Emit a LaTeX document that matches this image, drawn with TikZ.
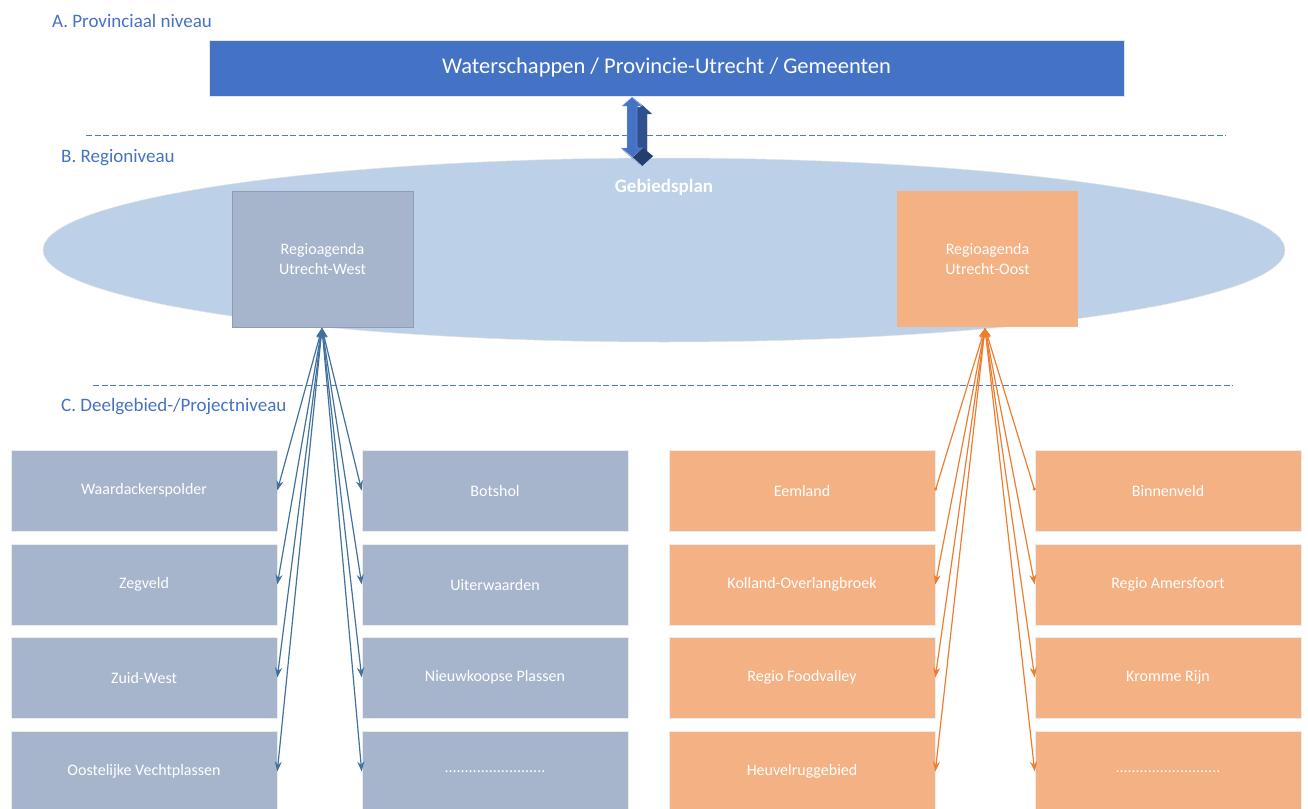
\documentclass[tikz,border=0pt]{standalone}
\usepackage{fontspec}
\setmainfont{Carlito}
\usetikzlibrary{arrows.meta,shapes.geometric}
\definecolor{hdr}{HTML}{4472C4}
\definecolor{dashc}{HTML}{4A7BD0}
\definecolor{hdrdark}{HTML}{2F528F}
\definecolor{hdrdeep}{HTML}{243F6E}
\definecolor{ell}{HTML}{BCD0E8}
\definecolor{wfill}{HTML}{A6B5CC}
\definecolor{wline}{HTML}{8C9DB5}
\definecolor{ofill}{HTML}{F4B183}
\definecolor{barr}{HTML}{41719C}
\definecolor{oarr}{HTML}{ED7D31}
\tikzset{
  lvl/.style={text=hdr, font=\fontsize{19}{22}\selectfont, anchor=west, inner sep=0pt},
  levelsep/.style={draw=dashc, line width=1.5pt, dash pattern=on 6pt off 2.5pt},
  wbox/.style={fill=wfill, draw=white!85!gray, line width=0.6pt, minimum width=266pt, minimum height=81pt, inner sep=0pt, text=white, font=\fontsize{16}{19}\selectfont},
  obox/.style={fill=ofill, draw=white!85!gray, line width=0.6pt, minimum width=266pt, minimum height=81pt, inner sep=0pt, text=white, font=\fontsize{16}{19}\selectfont},
  regbox/.style={minimum width=181pt, minimum height=136pt, inner sep=0pt, text=white, align=center, font=\fontsize{16}{20}\selectfont},
  barrow/.style={barr, line width=1.2pt, {Stealth[length=10pt,width=7pt]}-{Stealth[length=10pt,width=7pt]}},
  oarrow/.style={oarr, line width=1.2pt, {Stealth[length=10pt,width=7pt]}-{Stealth[length=10pt,width=7pt]}},
  oarrowdot/.style={oarr, line width=1.2pt, {Stealth[length=10pt,width=7pt]}-{Circle[length=3pt]}},
}
\begin{document}
\begin{tikzpicture}[x=1pt,y=-1pt]
\useasboundingbox (0,0) rectangle (1308,808);
\clip (0,0) rectangle (1308,808);
% Level labels
\node[lvl] (la) at (52,21) {A. Provinciaal niveau};
\node[lvl] (lb) at (61,158) {B. Regioniveau};
\node[lvl] (lc) at (61,407) {C. Deelgebied-/Projectniveau};
% top box
\node[fill=hdr, minimum width=915pt, minimum height=56pt, inner sep=0pt, text=white, font=\fontsize{22.5}{26}\selectfont, draw=white!80!gray, line width=0.5pt] (top) at (666.5,68) {Waterschappen / Provincie-Utrecht / Gemeenten};
% dashed separators
\coordinate (s1a) at (86,135.5);
\coordinate (s1b) at (1226,135.5);
\coordinate (s2a) at (93,385.5);
\coordinate (s2b) at (1233,385.5);
\draw[levelsep] (s1a) -- (s1b);
\draw[levelsep] (s2a) -- (s2b);
% ellipse
\node[ellipse, fill=ell, draw=white!80!gray, line width=0.5pt, minimum width=1242pt, minimum height=184pt, inner sep=0pt] (plan) at (664,250) {};
\node[text=white, font=\bfseries\fontsize{19}{22}\selectfont] (gp) at (664,187) {Gebiedsplan};
% 3D double arrow
\fill[hdrdark] (642,105) -- (652,114) -- (647,114) -- (647,156) -- (653,156) -- (642,166) -- (631,156) -- (637,156) -- (637,114) -- (632,114) -- cycle;
\fill[hdrdark] (632,97) -- (642,105) -- (652,114) -- (642,106) -- cycle;
\fill[hdrdark] (637,106) -- (647,114) -- (647,156) -- (637,148) -- cycle;
\fill[hdr, draw=white!60!hdr, line width=0.4pt] (632,97) -- (642,106) -- (637,106) -- (637,148) -- (643,148) -- (632,158) -- (621,148) -- (627,148) -- (627,106) -- (622,106) -- cycle;
\fill[hdrdeep] (632,158) -- (643,148) -- (653,156) -- (642,166) -- cycle;
\fill[hdr!80!black, draw=white!60!hdr, line width=0.3pt] (621,148) -- (632,158) -- (642,166) -- (631,156) -- cycle;
% region boxes
\node[regbox, fill=wfill, draw=wline, line width=0.8pt] (rw) at (322.5,259) {Regioagenda\\Utrecht-West};
\node[regbox, fill=ofill] (ro) at (987.5,259) {Regioagenda\\Utrecht-Oost};
% bottom boxes
\node[wbox] (w1) at (144,490.5) {Waardackerspolder};
\node[wbox] (w2) at (144,584.5) {Zegveld};
\node[wbox] (w3) at (144,677.5) {Zuid-West};
\node[wbox] (w4) at (144,771.5) {Oostelijke Vechtplassen};
\node[wbox] (v1) at (495,490.5) {Botshol};
\node[wbox] (v2) at (495,584.5) {Uiterwaarden};
\node[wbox] (v3) at (495,677.5) {Nieuwkoopse Plassen};
\node[wbox] (v4) at (495,771.5) {.........................};
\node[obox] (e1) at (802,490.5) {Eemland};
\node[obox] (e2) at (802,584.5) {Kolland-Overlangbroek};
\node[obox] (e3) at (802,677.5) {Regio Foodvalley};
\node[obox] (e4) at (802,771.5) {Heuvelruggebied};
\node[obox] (f1) at (1168,490.5) {Binnenveld};
\node[obox] (f2) at (1168,584.5) {Regio Amersfoort};
\node[obox] (f3) at (1168,677.5) {Kromme Rijn};
\node[obox] (f4) at (1168,771.5) {..........................};
% connectors west
\coordinate (rwb) at (322,328);
\draw[barrow] (rwb) -- (w1.east);
\draw[barrow] (rwb) -- (w2.east);
\draw[barrow] (rwb) -- (w3.east);
\draw[barrow] (rwb) -- (w4.east);
\draw[barrow] (rwb) -- (v1.west);
\draw[barrow] (rwb) -- (v2.west);
\draw[barrow] (rwb) -- (v3.west);
\draw[barrow] (rwb) -- (v4.west);
% connectors east
\coordinate (rob) at (985,328);
\draw[oarrowdot] (rob) -- (e1.east);
\draw[oarrow] (rob) -- (e2.east);
\draw[oarrow] (rob) -- (e3.east);
\draw[oarrow] (rob) -- (e4.east);
\draw[oarrowdot] (rob) -- (f1.west);
\draw[oarrow] (rob) -- (f2.west);
\draw[oarrow] (rob) -- (f3.west);
\draw[oarrow] (rob) -- (f4.west);
\end{tikzpicture}
\end{document}
